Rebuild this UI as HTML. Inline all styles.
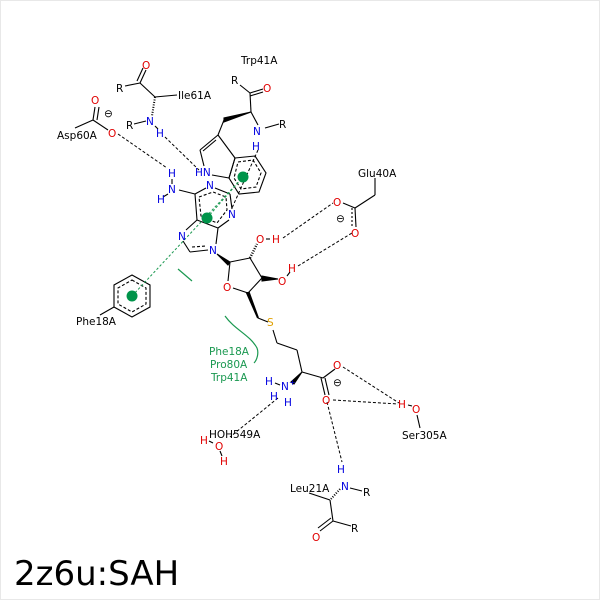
<!DOCTYPE html>
<html><head><meta charset="utf-8"><style>
html,body{margin:0;padding:0;background:#fff}
svg{display:block}
text{font-family:"DejaVu Sans","Liberation Sans",sans-serif;font-size:10.5px}
</style></head><body>
<svg width="600" height="600" viewBox="0 0 600 600" xmlns="http://www.w3.org/2000/svg">
<rect x="0.5" y="0.5" width="599" height="599" fill="#fff" stroke="#e8e8e8"/>
<g stroke="#000" stroke-width="1.1" fill="none">
<!-- Ile61A -->
<line x1="125" y1="86" x2="140" y2="83"/><line x1="140" y1="83" x2="146" y2="70"/><line x1="137" y1="81" x2="143" y2="68"/>
<line x1="140" y1="83" x2="155" y2="97"/><line x1="155" y1="97" x2="177" y2="95"/>
<line x1="155" y1="97" x2="152" y2="116" stroke-dasharray="1,1.5" stroke-width="2"/>
<line x1="134" y1="124" x2="146" y2="121"/><line x1="155" y1="126" x2="158" y2="129"/>
<!-- Asp60A -->
<line x1="75" y1="128" x2="93" y2="120"/><line x1="93" y1="120" x2="95" y2="107"/><line x1="97" y1="120" x2="99" y2="107"/>
<line x1="93" y1="120" x2="108" y2="130"/>
<!-- Trp41A -->
<line x1="240" y1="85" x2="250" y2="93"/><line x1="250" y1="93" x2="263" y2="89"/><line x1="250" y1="96" x2="263" y2="92"/>
<line x1="250" y1="93" x2="251" y2="112"/><line x1="251" y1="112" x2="258" y2="125"/><line x1="265" y1="128" x2="279" y2="124"/>
<path d="M251 112 L224 118 L224 122 Z" fill="#000"/>
<line x1="224" y1="120" x2="218" y2="135"/>
<line x1="218" y1="135" x2="200" y2="150"/><line x1="216" y1="140" x2="203" y2="151"/>
<line x1="200" y1="150" x2="204" y2="166"/><line x1="212" y1="175" x2="229" y2="178"/>
<line x1="229" y1="178" x2="235" y2="158"/><line x1="235" y1="158" x2="218" y2="135"/>
<polygon points="235,158 255,156 266,173 259,192 239,194 229,178"/>
<polygon points="238,162 253,160 261,173 256,187 241,189 234,178" stroke-dasharray="3,2"/>
<!-- Phe18A ring -->
<polygon points="132,275 150,285 150,307 132,317 114,307 114,285"/>
<polygon points="132,280 146,288 146,304 132,312 118,304 118,288" stroke-dasharray="3,2"/>
<line x1="114" y1="307" x2="100" y2="315"/>
<!-- adenine -->
<line x1="179" y1="190" x2="195" y2="194"/>
<line x1="172" y1="179" x2="172" y2="184"/><line x1="168" y1="194" x2="163" y2="197"/>
<line x1="195" y1="194" x2="206" y2="188"/><line x1="215" y1="188" x2="230" y2="194"/>
<line x1="230" y1="194" x2="232" y2="209"/><line x1="229" y1="220" x2="218" y2="228"/>
<line x1="218" y1="228" x2="197" y2="220"/><line x1="197" y1="220" x2="195" y2="194"/>
<polyline points="199,197 213,192 226,197 227,210 217,223 201,216 199,197" stroke-dasharray="3,2"/>
<line x1="197" y1="220" x2="186" y2="230"/><line x1="183" y1="241" x2="190" y2="252"/>
<line x1="190" y1="252" x2="208" y2="250"/><line x1="216" y1="244" x2="218" y2="228"/>
<line x1="192" y1="247" x2="206" y2="246" stroke-dasharray="3,2"/>
<!-- ribose -->
<path d="M217 254 L230 262 L228 265 Z" fill="#000"/>
<line x1="230" y1="262" x2="250" y2="258"/><line x1="250" y1="258" x2="262" y2="278"/>
<line x1="262" y1="278" x2="248" y2="293"/><line x1="248" y1="293" x2="233" y2="288"/>
<line x1="228" y1="281" x2="230" y2="262"/>
<line x1="250" y1="258" x2="257" y2="244" stroke-dasharray="1,1.5" stroke-width="2.5"/>
<line x1="266" y1="239" x2="270" y2="239"/><line x1="287" y1="276" x2="290" y2="272"/>
<path d="M262 276 L278 279 L262 281 Z" fill="#000"/>
<path d="M247 293 L249 293 L258 318 Z" fill="#000" stroke-width="2"/>
<line x1="258" y1="318" x2="268" y2="322"/>
<line x1="273" y1="330" x2="277" y2="343"/><line x1="277" y1="343" x2="297" y2="350"/>
<line x1="297" y1="350" x2="302" y2="372"/>
<path d="M302 372 L291 382 L294 384 Z" fill="#000"/>
<line x1="302" y1="372" x2="323" y2="378"/>
<line x1="323" y1="378" x2="335" y2="369"/><line x1="321" y1="378" x2="325" y2="395"/><line x1="325" y1="378" x2="329" y2="395"/>
<line x1="275" y1="383" x2="280" y2="385"/>
<!-- Glu40A -->
<line x1="375" y1="178" x2="375" y2="195"/><line x1="375" y1="195" x2="355" y2="208"/>
<line x1="355" y1="208" x2="343" y2="203"/><line x1="355" y1="208" x2="356" y2="227"/><line x1="352" y1="208" x2="352" y2="227" stroke-dasharray="2,2"/>
<!-- Ser -->
<line x1="417" y1="415" x2="420" y2="428"/><line x1="408" y1="405" x2="412" y2="406"/>
<!-- HOH -->
<line x1="220" y1="451" x2="222" y2="456"/><line x1="209" y1="441" x2="213" y2="443"/>
<!-- Leu21A -->
<line x1="340" y1="489" x2="331" y2="499" stroke-dasharray="1,1.5" stroke-width="2"/>
<line x1="350" y1="488" x2="362" y2="491"/>
<line x1="309" y1="493" x2="330" y2="500"/><line x1="330" y1="500" x2="333" y2="521"/>
<line x1="333" y1="521" x2="320" y2="531"/><line x1="331" y1="518" x2="318" y2="528"/>
<line x1="333" y1="521" x2="351" y2="526"/>
</g>
<!-- H bonds -->
<g stroke="#000" stroke-width="1" stroke-dasharray="3,2" fill="none">
<line x1="118" y1="134" x2="167" y2="168"/>
<line x1="165" y1="137" x2="199" y2="170"/>
<line x1="258" y1="150" x2="232" y2="208"/>
<line x1="283" y1="238" x2="333" y2="203"/>
<line x1="298" y1="266" x2="352" y2="233"/>
<line x1="278" y1="398" x2="230" y2="437"/>
<line x1="343" y1="367" x2="399" y2="403"/>
<line x1="333" y1="400" x2="398" y2="404"/>
<line x1="327" y1="402" x2="342" y2="462"/>
</g>
<!-- green -->
<g stroke="#1a9850" fill="none">
<line x1="132" y1="296" x2="243" y2="177" stroke-dasharray="2.5,2"/>
<line x1="207" y1="218" x2="243" y2="177" stroke-dasharray="2.5,2"/>
<line x1="178" y1="269" x2="192" y2="281" stroke-width="1.2"/>
<path d="M225 316 C235 330 250 335 257 348 C259 353 257 360 254 363" stroke-width="1.2"/>
</g>
<g fill="#00944a"><circle cx="243" cy="177" r="5.5"/><circle cx="207" cy="218" r="5.5"/><circle cx="132" cy="296" r="5.5"/></g>
<!-- labels -->
<g fill="#000">
<text x="116" y="92">R</text><text x="178" y="99">Ile61A</text>
<text x="126" y="129">R</text>
<text x="57" y="139">Asp60A</text>
<text x="241" y="64">Trp41A</text><text x="231" y="84">R</text><text x="279" y="128">R</text>
<text x="358" y="177">Glu40A</text>
<text x="76" y="325">Phe18A</text>
<text x="402" y="439">Ser305A</text>
<text x="209" y="438">HOH549A</text>
<text x="290" y="492">Leu21A</text><text x="363" y="496">R</text><text x="351" y="532">R</text>
<text x="14" y="585" style="font-size:34px">2z6u:SAH</text>
</g>
<g fill="#e00000">
<text x="142" y="69">O</text><text x="91" y="104">O</text><text x="108" y="137">O</text>
<text x="263" y="92">O</text>
<text x="256" y="243">O</text><text x="272" y="243">H</text>
<text x="278" y="285">O</text><text x="288" y="272">H</text>
<text x="223" y="291">O</text>
<text x="333" y="206">O</text><text x="351" y="237">O</text>
<text x="333" y="369">O</text><text x="322" y="404">O</text>
<text x="398" y="408">H</text><text x="412" y="413">O</text>
<text x="200" y="444">H</text><text x="215" y="450">O</text><text x="220" y="465">H</text>
<text x="312" y="541">O</text>
</g>
<g fill="#0000e0">
<text x="146" y="125">N</text><text x="156" y="137">H</text>
<text x="253" y="135">N</text><text x="252" y="150">H</text>
<text x="195" y="176">HN</text>
<text x="168" y="177">H</text><text x="168" y="193">N</text><text x="157" y="203">H</text>
<text x="206" y="189">N</text><text x="228" y="218">N</text>
<text x="178" y="240">N</text><text x="209" y="254">N</text>
<text x="265" y="385">H</text><text x="281" y="390">N</text><text x="289" y="385" style="font-size:8px">+</text>
<text x="270" y="400">H</text><text x="284" y="406">H</text>
<text x="337" y="473">H</text><text x="341" y="490">N</text>
</g>
<text x="267" y="326" fill="#e0a000">S</text>
<g fill="#000" style="font-size:9px">
<text x="104" y="117">⊖</text><text x="336" y="222">⊖</text><text x="333" y="386">⊖</text>
</g>
<g fill="#1a9850" style="font-size:9.5px">
<text x="209" y="355">Phe18A</text><text x="210" y="368">Pro80A</text><text x="211" y="381">Trp41A</text>
</g>
</svg>
</body></html>
